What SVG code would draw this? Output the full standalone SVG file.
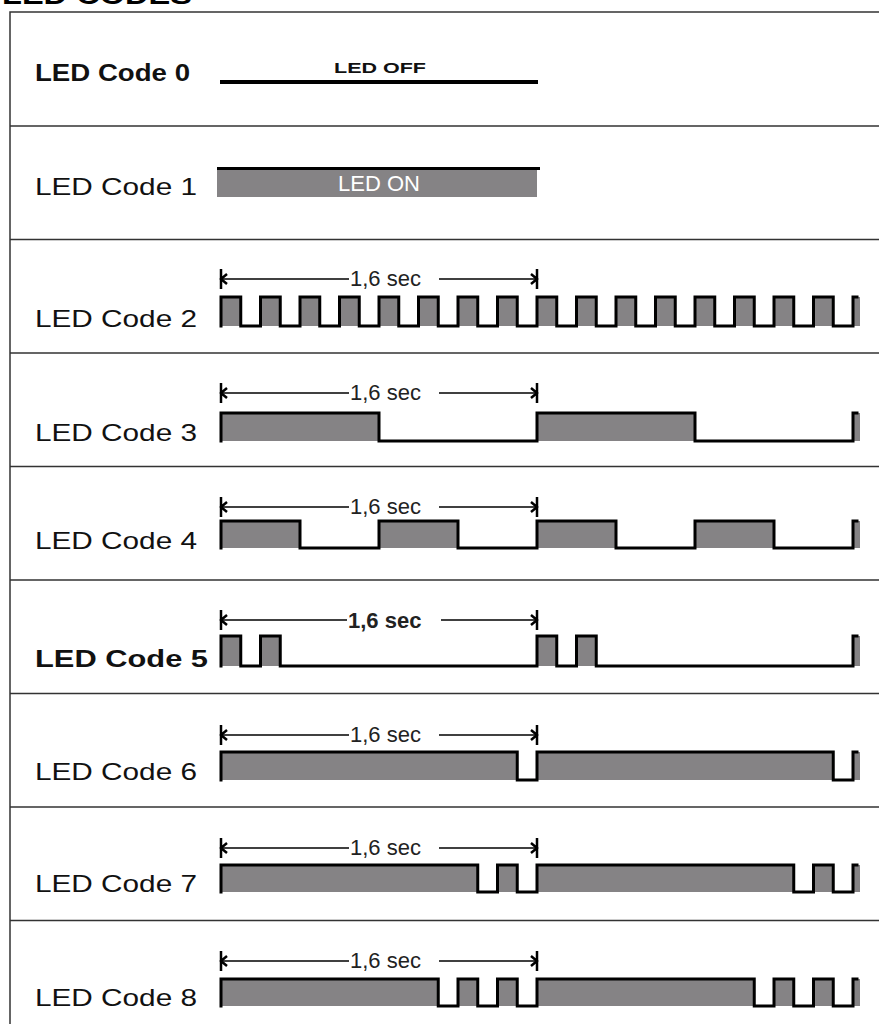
<svg xmlns="http://www.w3.org/2000/svg" width="879" height="1024" viewBox="0 0 879 1024">
<style>
.lbl{font-family:"Liberation Sans",Arial,sans-serif;font-size:24px;fill:#111}
.b{font-weight:bold}
.sec{font-family:"Liberation Sans",Arial,sans-serif;font-size:22px;fill:#222}
.sep{stroke:#333;stroke-width:1.5;fill:none}
.wave{fill:none;stroke:#000;stroke-width:3;stroke-linejoin:miter;stroke-linecap:square}
.gf{fill:#858385;stroke:none}
.dl{stroke:#000;stroke-width:1.5;fill:none;marker-start:url(#cap)}
.dr{stroke:#000;stroke-width:1.5;fill:none;marker-end:url(#cap)}
</style>
<defs>
<marker id="cap" markerUnits="userSpaceOnUse" markerWidth="20" markerHeight="26" viewBox="-12 -13 20 26" refX="0" refY="0" orient="auto-start-reverse">
<path d="M0,-10 V10 M-6,-5 L0,0 L-6,5" fill="none" stroke="#000" stroke-width="2.5"/>
</marker>
</defs>
<rect width="879" height="1024" fill="#fff"/>
<text x="2" y="4" font-family="Liberation Sans,Arial,sans-serif" font-weight="bold" font-size="26" fill="#000" textLength="190" lengthAdjust="spacingAndGlyphs">LED CODES</text>
<g id="frame">
<path class="sep" d="M10,1024 V12 H879 M10,126 H879 M10,239.5 H879 M10,353 H879 M10,466.5 H879 M10,580 H879 M10,693.5 H879 M10,807 H879 M10,920.5 H879"/>
</g>
<g id="code0">
<text class="lbl b" x="35" y="81" textLength="155" lengthAdjust="spacingAndGlyphs">LED Code 0</text>
<line x1="220" y1="82" x2="538" y2="82" stroke="#000" stroke-width="4"/>
<text x="380" y="73" text-anchor="middle" font-family="Liberation Sans,Arial,sans-serif" font-weight="bold" font-size="15" fill="#111" textLength="92" lengthAdjust="spacingAndGlyphs">LED OFF</text>
</g>
<g id="code1">
<text class="lbl" x="35" y="195" textLength="162" lengthAdjust="spacingAndGlyphs">LED Code 1</text>
<rect class="gf" x="217" y="168" width="320" height="29"/>
<line x1="217" y1="168.5" x2="540" y2="168.5" stroke="#000" stroke-width="3"/>
<text x="379" y="191" text-anchor="middle" font-family="Liberation Sans,Arial,sans-serif" font-size="22" fill="#fff">LED ON</text>
</g>
<g id="code2">
<text class="lbl" x="35" y="327" textLength="162" lengthAdjust="spacingAndGlyphs">LED Code 2</text>
<path class="gf" d="M221,326 V297 H240.75 V326 H260.5 V297 H280.25 V326 H300 V297 H319.75 V326 H339.5 V297 H359.25 V326 H379 V297 H398.75 V326 H418.5 V297 H438.25 V326 H458 V297 H477.75 V326 H497.5 V297 H517.25 V326 H537 V297 H556.75 V326 H576.5 V297 H596.25 V326 H616 V297 H635.75 V326 H655.5 V297 H675.25 V326 H695 V297 H714.75 V326 H734.5 V297 H754.25 V326 H774 V297 H793.75 V326 H813.5 V297 H833.25 V326 H853 V297 H860 V326 Z"/>
<path class="wave" d="M221,326 V297 H240.75 V326 H260.5 V297 H280.25 V326 H300 V297 H319.75 V326 H339.5 V297 H359.25 V326 H379 V297 H398.75 V326 H418.5 V297 H438.25 V326 H458 V297 H477.75 V326 H497.5 V297 H517.25 V326 H537 V297 H556.75 V326 H576.5 V297 H596.25 V326 H616 V297 H635.75 V326 H655.5 V297 H675.25 V326 H695 V297 H714.75 V326 H734.5 V297 H754.25 V326 H774 V297 H793.75 V326 H813.5 V297 H833.25 V326 H853 V297 H857"/>
</g>
<g id="code3">
<text class="lbl" x="35" y="441" textLength="162" lengthAdjust="spacingAndGlyphs">LED Code 3</text>
<path class="gf" d="M221,441 V413 H379 V441 H537 V413 H695 V441 H853 V413 H860 V441 Z"/>
<path class="wave" d="M221,441 V413 H379 V441 H537 V413 H695 V441 H853 V413 H857"/>
</g>
<g id="code4">
<text class="lbl" x="35" y="549" textLength="162" lengthAdjust="spacingAndGlyphs">LED Code 4</text>
<path class="gf" d="M221,548 V521 H300 V548 H379 V521 H458 V548 H537 V521 H616 V548 H695 V521 H774 V548 H853 V521 H860 V548 Z"/>
<path class="wave" d="M221,548 V521 H300 V548 H379 V521 H458 V548 H537 V521 H616 V548 H695 V521 H774 V548 H853 V521 H857"/>
</g>
<g id="code5">
<text class="lbl b" x="35" y="667" font-size="25" textLength="173" lengthAdjust="spacingAndGlyphs">LED Code 5</text>
<path class="gf" d="M221,666 V636 H240.75 V666 H260.5 V636 H280.25 V666 H537 V636 H556.75 V666 H576.5 V636 H596.25 V666 H853 V636 H860 V666 Z"/>
<path class="wave" d="M221,666 V636 H240.75 V666 H260.5 V636 H280.25 V666 H537 V636 H556.75 V666 H576.5 V636 H596.25 V666 H853 V636 H857"/>
</g>
<g id="code6">
<text class="lbl" x="35" y="780" textLength="162" lengthAdjust="spacingAndGlyphs">LED Code 6</text>
<path class="gf" d="M221,780 V752 H517.25 V780 H537 V752 H833.25 V780 H853 V752 H860 V780 Z"/>
<path class="wave" d="M221,780 V752 H517.25 V780 H537 V752 H833.25 V780 H853 V752 H857"/>
</g>
<g id="code7">
<text class="lbl" x="35" y="892" textLength="162" lengthAdjust="spacingAndGlyphs">LED Code 7</text>
<path class="gf" d="M221,892 V865 H477.75 V892 H497.5 V865 H517.25 V892 H537 V865 H793.75 V892 H813.5 V865 H833.25 V892 H853 V865 H860 V892 Z"/>
<path class="wave" d="M221,892 V865 H477.75 V892 H497.5 V865 H517.25 V892 H537 V865 H793.75 V892 H813.5 V865 H833.25 V892 H853 V865 H857"/>
</g>
<g id="code8">
<text class="lbl" x="35" y="1006" textLength="162" lengthAdjust="spacingAndGlyphs">LED Code 8</text>
<path class="gf" d="M221,1006 V979 H438.25 V1006 H458 V979 H477.75 V1006 H497.5 V979 H517.25 V1006 H537 V979 H754.25 V1006 H774 V979 H793.75 V1006 H813.5 V979 H833.25 V1006 H853 V979 H860 V1006 Z"/>
<path class="wave" d="M221,1006 V979 H438.25 V1006 H458 V979 H477.75 V1006 H497.5 V979 H517.25 V1006 H537 V979 H754.25 V1006 H774 V979 H793.75 V1006 H813.5 V979 H833.25 V1006 H853 V979 H857"/>
</g>
<g id="connectors">
<path class="dl" d="M221,279 H349"/><path class="dr" d="M439,279 H537"/>
<text class="sec" x="350" y="286">1,6 sec</text>
<path class="dl" d="M221,393 H349"/><path class="dr" d="M439,393 H537"/>
<text class="sec" x="350" y="400">1,6 sec</text>
<path class="dl" d="M221,507 H349"/><path class="dr" d="M439,507 H537"/>
<text class="sec" x="350" y="514">1,6 sec</text>
<path class="dl" d="M221,620 H347"/><path class="dr" d="M441,620 H537"/>
<text class="sec b" x="348" y="628">1,6 sec</text>
<path class="dl" d="M221,735 H349"/><path class="dr" d="M439,735 H537"/>
<text class="sec" x="350" y="742">1,6 sec</text>
<path class="dl" d="M221,848 H349"/><path class="dr" d="M439,848 H537"/>
<text class="sec" x="350" y="855">1,6 sec</text>
<path class="dl" d="M221,961 H349"/><path class="dr" d="M439,961 H537"/>
<text class="sec" x="350" y="968">1,6 sec</text>
</g>
</svg>
